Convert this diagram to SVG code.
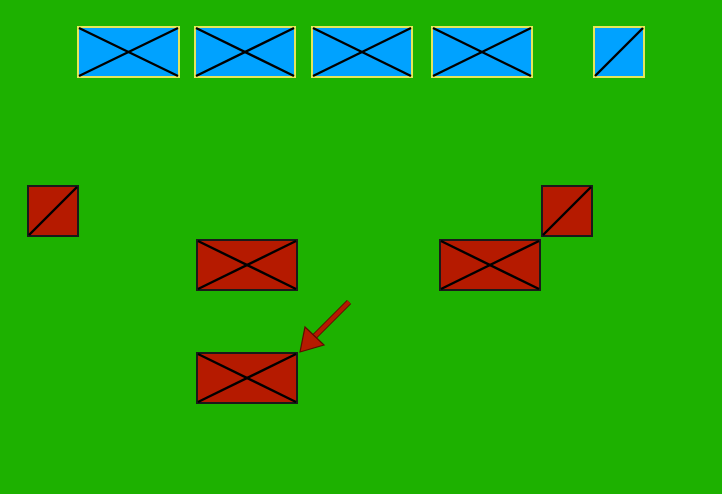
<svg xmlns="http://www.w3.org/2000/svg" width="722" height="494" viewBox="0 0 722 494">
<style>
.blue rect{fill:#00a2ff;stroke:#e6e65a;stroke-width:2}
.red rect{fill:#b51a00;stroke:#1a1a1a;stroke-width:2}
line.d{stroke:#000;stroke-width:2.4}
</style>
<rect width="722" height="494" fill="#1db100"/>
<g id="b1" class="blue"><rect x="78" y="27" width="101" height="50"/><line class="d" x1="79" y1="28" x2="178" y2="76"/><line class="d" x1="79" y1="76" x2="178" y2="28"/></g>
<g id="b2" class="blue"><rect x="195" y="27" width="100" height="50"/><line class="d" x1="196" y1="28" x2="294" y2="76"/><line class="d" x1="196" y1="76" x2="294" y2="28"/></g>
<g id="b3" class="blue"><rect x="312" y="27" width="100" height="50"/><line class="d" x1="313" y1="28" x2="411" y2="76"/><line class="d" x1="313" y1="76" x2="411" y2="28"/></g>
<g id="b4" class="blue"><rect x="432" y="27" width="100" height="50"/><line class="d" x1="433" y1="28" x2="531" y2="76"/><line class="d" x1="433" y1="76" x2="531" y2="28"/></g>
<g id="b5" class="blue"><rect x="594" y="27" width="50" height="50"/><line class="d" x1="595" y1="76" x2="643" y2="28"/></g>
<g id="r1" class="red"><rect x="28" y="186" width="50" height="50"/><line class="d" x1="29" y1="235" x2="77" y2="187"/></g>
<g id="r2" class="red"><rect x="542" y="186" width="50" height="50"/><line class="d" x1="543" y1="235" x2="591" y2="187"/></g>
<g id="r3" class="red"><rect x="197" y="240" width="100" height="50"/><line class="d" x1="198" y1="241" x2="296" y2="289"/><line class="d" x1="198" y1="289" x2="296" y2="241"/></g>
<g id="r4" class="red"><rect x="440" y="240" width="100" height="50"/><line class="d" x1="441" y1="241" x2="539" y2="289"/><line class="d" x1="441" y1="289" x2="539" y2="241"/></g>
<g id="r5" class="red"><rect x="197" y="353" width="100" height="50"/><line class="d" x1="198" y1="354" x2="296" y2="402"/><line class="d" x1="198" y1="402" x2="296" y2="354"/></g>
<g id="connectors">
<line x1="349" y1="302" x2="313" y2="338" stroke="#5a0d00" stroke-width="6"/>
<line x1="349" y1="302" x2="313" y2="338" stroke="#b51a00" stroke-width="4"/>
<path d="M300,352 L305,327 L324,345 Z" fill="#b51a00" stroke="#5a0d00" stroke-width="1.2"/>
</g>
</svg>
